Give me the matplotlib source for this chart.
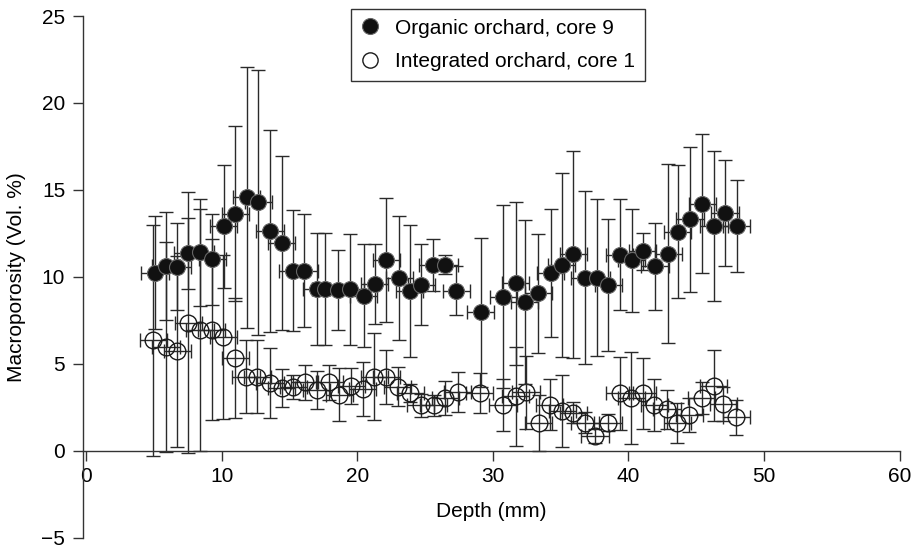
import matplotlib
matplotlib.use("Agg")
import matplotlib.pyplot as plt
from matplotlib.lines import Line2D

plt.rcParams["font.family"] = ["Liberation Sans", "DejaVu Sans"]

# Organic orchard, core 9 (depth mm, macroporosity vol. %, +/- error)
org_depth = [5.09, 5.90, 6.73, 7.50, 8.43, 9.30, 10.15, 11.00, 11.87, 12.70,
             13.57, 14.44, 15.24, 16.10, 17.00, 17.65, 18.60, 19.48, 20.47, 21.28,
             22.15, 23.10, 23.87, 24.72, 25.57, 26.45, 27.30, 29.10, 30.78, 31.69,
             32.37, 33.34, 34.27, 35.08, 35.94, 36.80, 37.66, 38.52, 39.36, 40.24,
             41.05, 41.96, 42.94, 43.63, 44.54, 45.45, 46.31, 47.12, 47.99]
org_poro = [10.23, 10.6, 10.57, 11.35, 11.4, 11.0, 12.9, 13.64, 14.58, 14.28,
            12.65, 11.93, 10.36, 10.36, 9.3, 9.3, 9.25, 9.28, 8.92, 9.6,
            10.98, 9.93, 9.2, 9.55, 10.68, 10.7, 9.2, 7.95, 8.86, 9.62,
            8.56, 9.05, 10.23, 10.7, 11.3, 9.94, 9.94, 9.51, 11.27, 10.95,
            11.46, 10.6, 11.33, 12.6, 13.3, 14.2, 12.92, 13.68, 12.92]
org_err = [3.25, 3.1, 2.5, 2.05, 3.05, 2.6, 3.55, 5.05, 7.5, 7.6,
           5.8, 5.0, 3.5, 3.25, 3.2, 3.2, 2.3, 3.2, 2.95, 2.3,
           3.58, 3.58, 3.8, 2.32, 1.52, 0.55, 1.42, 4.26, 5.25, 4.7,
           4.73, 3.41, 3.69, 5.3, 5.95, 4.97, 4.52, 3.79, 3.18, 2.95,
           1.06, 2.5, 5.14, 3.82, 4.19, 4.0, 4.31, 3.05, 2.65]

# Integrated orchard, core 1
int_depth = [4.97, 5.90, 6.73, 7.55, 8.41, 9.27, 10.13, 11.00, 11.80, 12.63,
             13.57, 14.45, 15.29, 16.13, 17.00, 17.95, 18.68, 19.55, 20.40, 21.25,
             22.15, 23.00, 23.90, 24.70, 25.65, 26.50, 27.40, 29.05, 30.75, 31.69,
             32.45, 33.40, 34.20, 35.12, 35.94, 36.80, 37.54, 38.50, 39.36, 40.20,
             41.05, 41.90, 42.85, 43.60, 44.50, 45.40, 46.28, 47.00, 47.95]
int_poro = [6.34, 5.97, 5.72, 7.35, 6.95, 6.97, 6.53, 5.34, 4.26, 4.26,
            3.9, 3.6, 3.66, 3.94, 3.5, 3.94, 3.22, 3.72, 3.55, 4.26,
            4.26, 3.69, 3.31, 2.61, 2.61, 3.03, 3.37, 3.31, 2.61, 3.13,
            3.37, 1.61, 2.65, 2.27, 2.18, 1.61, 0.85, 1.61, 3.31, 3.03,
            3.31, 2.61, 2.37, 1.61, 2.05, 3.03, 3.75, 2.69, 1.93]
int_err = [6.65, 6.06, 5.5, 7.5, 6.94, 5.2, 4.72, 3.46, 2.08, 2.08,
           2.0, 1.1, 0.7, 1.0, 1.1, 1.0, 1.53, 1.04, 1.55, 2.5,
           1.56, 1.1, 0.5, 0.66, 0.6, 1.0, 1.16, 1.16, 1.5, 2.84,
           2.1, 1.6, 1.47, 2.06, 0.6, 0.6, 0.4, 0.5, 2.1, 2.62,
           2.05, 1.49, 1.14, 1.14, 1.0, 0.9, 2.04, 1.0, 1.0]

depth_err = 1.0  # slice thickness error (mm)

fig = plt.figure(figsize=(9.16, 5.52), dpi=100)
ax = fig.add_axes([0.0909, 0.026, 0.8912, 0.945])

bar_kw = dict(fmt="none", ecolor="#2a2a2a", elinewidth=1.0, capsize=4.7, capthick=1.0)

ax.errorbar(int_depth, int_poro, yerr=int_err, xerr=depth_err, zorder=2, **bar_kw)
ax.plot(int_depth, int_poro, "o", ms=12.0, mfc="none", mec="#1a1a1a", mew=1.0, zorder=3)

ax.errorbar(org_depth, org_poro, yerr=org_err, xerr=depth_err, zorder=4, **bar_kw)
ax.plot(org_depth, org_poro, "o", ms=11.5, mfc="#111111", mec="#666666", mew=0.8, zorder=5)

ax.set_xlim(-0.2, 60)
ax.set_ylim(-5, 25)
ax.set_xticks(range(0, 61, 10))
ax.set_yticks(range(-5, 26, 5))
ax.set_yticklabels(["\u22125"] + [str(v) for v in range(0, 26, 5)])

ax.spines["bottom"].set_position(("data", 0))
ax.spines[["top", "right"]].set_visible(False)
for s in ("left", "bottom"):
    ax.spines[s].set_color("#333333")
    ax.spines[s].set_linewidth(1.0)
ax.tick_params(direction="out", length=7, width=1.0, color="#333333",
               labelsize=15)
ax.tick_params(axis="x", pad=5)
ax.tick_params(axis="y", pad=6)

ax.set_xlabel("Depth (mm)", fontsize=15, labelpad=11)
ax.set_ylabel("Macroporosity (Vol. %)", fontsize=15, labelpad=11)

handles = [
    Line2D([], [], ls="none", marker="o", ms=11.5, mfc="#111111", mec="#666666", mew=0.8),
    Line2D([], [], ls="none", marker="o", ms=11.0, mfc="none", mec="#1a1a1a", mew=1.0),
]
ax.legend(handles, ["Organic orchard, core 9", "Integrated orchard, core 1"],
          loc="upper left", bbox_to_anchor=(350.5 / 916, 1 - 9.3 / 552),
          bbox_transform=fig.transFigure, borderaxespad=0, fontsize=15,
          frameon=True, fancybox=False, framealpha=1, edgecolor="#333333",
          handlelength=1.0, handletextpad=0.7, labelspacing=0.7, borderpad=0.45)

fig.savefig("out.png", dpi=100, facecolor="white")
